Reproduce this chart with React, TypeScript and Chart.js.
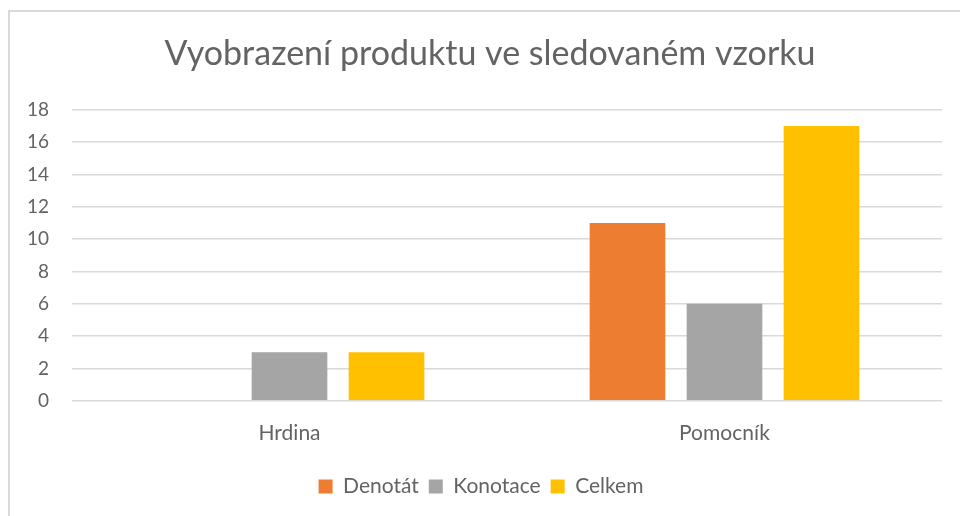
import React, { useEffect, useRef } from "react";
import { Chart, registerables } from "chart.js";

Chart.register(...registerables);

const categories = ["Hrdina", "Pomocník"];
const denotat = [0, 11];
const konotace = [3, 6];
const celkem = [3, 17];
const seriesNames = ["Denotát", "Konotace", "Celkem"];
const yTicks = { min: 0, max: 18, step: 2 };
const titleText = "Vyobrazení produktu ve sledovaném vzorku";

const TEXT = "#636363";
const FONT = "Lato, 'Open Sans', sans-serif";

const titleShift = {
  id: "titleShift",
  afterLayout(chart: any) {
    if (chart.titleBlock) chart.titleBlock.left += 18;
  },
};

export default function App() {
  const ref = useRef<HTMLCanvasElement | null>(null);
  useEffect(() => {
    if (!ref.current) return;
    const chart = new Chart(ref.current, {
      type: "bar",
      data: {
        labels: categories,
        datasets: [
          { label: seriesNames[0], data: denotat, backgroundColor: "#ED7D31" },
          { label: seriesNames[1], data: konotace, backgroundColor: "#A5A5A5" },
          { label: seriesNames[2], data: celkem, backgroundColor: "#FFC000" },
        ],
      },
      plugins: [titleShift],
      options: {
        animation: false,
        responsive: false,
        maintainAspectRatio: false,
        datasets: { bar: { categoryPercentage: 0.669, barPercentage: 0.78, borderWidth: 0 } },
        layout: { padding: { left: 20, right: 18, top: 0, bottom: 9 } },
        plugins: {
          title: {
            display: true,
            text: titleText,
            color: TEXT,
            font: { family: FONT, size: 34, weight: "normal" },
            padding: { top: 34, bottom: 35 },
          },
          legend: {
            position: "bottom",
            labels: {
              color: TEXT,
              font: { family: FONT, size: 21 },
              boxWidth: 14,
              boxHeight: 14,
              padding: 10,
            },
          },
          tooltip: { enabled: false },
        },
        scales: {
          x: {
            grid: { display: false, drawTicks: false },
            border: { display: false },
            ticks: { color: TEXT, font: { family: FONT, size: 21 }, padding: 20 },
          },
          y: {
            min: yTicks.min,
            max: yTicks.max,
            grid: { color: "#d9d9d9", lineWidth: 1.5, drawTicks: false },
            border: { display: false },
            ticks: {
              stepSize: yTicks.step,
              color: TEXT,
              font: { family: FONT, size: 19 },
              padding: 23,
            },
            afterFit: (scale: any) => {
              scale.width = 52;
            },
          },
        },
      },
    });
    return () => chart.destroy();
  }, []);
  return (
    <div style={{ position: "fixed", left: 0, top: 0, width: 960, height: 516, overflow: "hidden", background: "#fff" }}>
      <div
        style={{
          position: "absolute",
          left: 8,
          top: 10,
          width: 1000,
          height: 600,
          border: "2px solid #d9d9d9",
        }}
      />
      <canvas ref={ref} width={960} height={516} style={{ position: "absolute", left: 0, top: 0 }} />
    </div>
  );
}
